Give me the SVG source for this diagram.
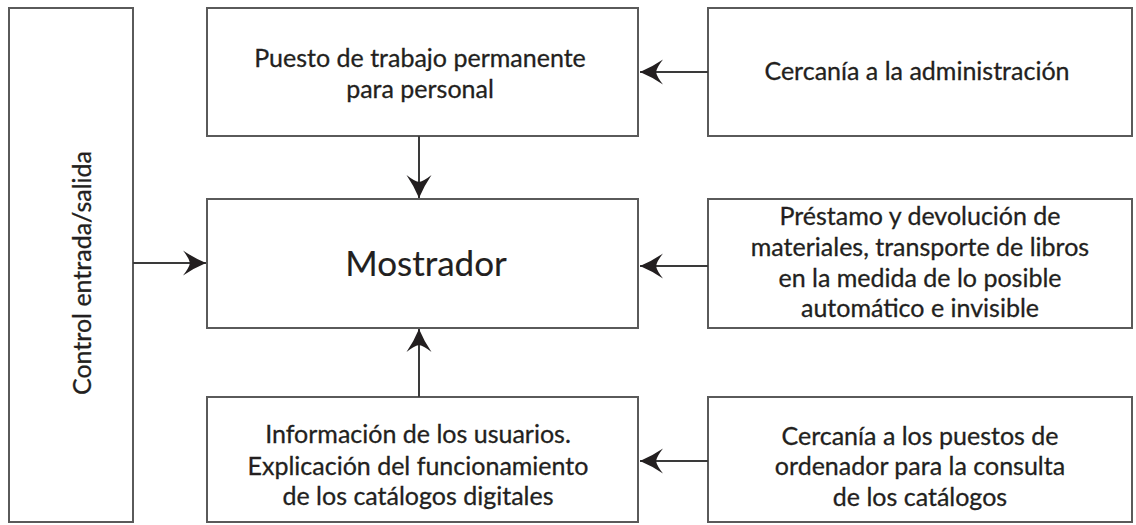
<svg xmlns="http://www.w3.org/2000/svg" width="1136" height="525" viewBox="0 0 1136 525">
<style>
.box{fill:#fff;stroke:#5a5a5a;stroke-width:2}
.t{font-family:Lato,"Open Sans","Liberation Sans",sans-serif;fill:#231f20;stroke:#231f20;stroke-width:0.3;text-anchor:middle;font-size:25px}
.big{font-size:35px;stroke-width:0.15}
.conn{stroke:#3a3a3a;stroke-width:2;fill:none}
</style>
<defs>
<marker id="ah" viewBox="-25 -14 26 28" markerWidth="26" markerHeight="28" refX="0" refY="0" orient="auto" markerUnits="userSpaceOnUse">
<path d="M0,0 Q-12,-5 -23,-12.5 Q-17,-5 -16,0 Q-17,5 -23,12.5 Q-12,5 0,0 Z" fill="#231f20"/>
</marker>
</defs>
<rect width="1136" height="525" fill="#fff"/>
<g id="control">
<rect class="box" x="9" y="8" width="124" height="514"/>
<text class="t" transform="translate(91,273) rotate(-90)">Control entrada/salida</text>
</g>
<g id="puesto">
<rect class="box" x="207" y="8" width="431" height="128"/>
<text class="t" x="420" y="67">Puesto de trabajo permanente</text>
<text class="t" x="420" y="98">para personal</text>
</g>
<g id="cercania-admin">
<rect class="box" x="708" y="8" width="424" height="128"/>
<text class="t" x="917" y="80">Cercanía a la administración</text>
</g>
<g id="mostrador">
<rect class="box" x="207" y="199" width="431" height="129"/>
<text class="t big" x="426" y="276">Mostrador</text>
</g>
<g id="prestamo">
<rect class="box" x="708" y="199" width="424" height="129"/>
<text class="t" x="920" y="225">Préstamo y devolución de</text>
<text class="t" x="920" y="256">materiales, transporte de libros</text>
<text class="t" x="920" y="287">en la medida de lo posible</text>
<text class="t" x="920" y="317">automático e invisible</text>
</g>
<g id="informacion">
<rect class="box" x="207" y="397" width="431" height="125"/>
<text class="t" x="418" y="443">Información de los usuarios.</text>
<text class="t" x="418" y="475">Explicación del funcionamiento</text>
<text class="t" x="418" y="505">de los catálogos digitales</text>
</g>
<g id="cercania-ordenador">
<rect class="box" x="708" y="397" width="424" height="125"/>
<text class="t" x="920" y="445">Cercanía a los puestos de</text>
<text class="t" x="920" y="475">ordenador para la consulta</text>
<text class="t" x="920" y="506">de los catálogos</text>
</g>
<g id="connectors">
<line class="conn" x1="708" y1="72" x2="640" y2="72" marker-end="url(#ah)"/>
<line class="conn" x1="419" y1="136" x2="419" y2="198" marker-end="url(#ah)"/>
<line class="conn" x1="133" y1="263" x2="206" y2="263" marker-end="url(#ah)"/>
<line class="conn" x1="708" y1="266" x2="640" y2="266" marker-end="url(#ah)"/>
<line class="conn" x1="419" y1="397" x2="419" y2="329" marker-end="url(#ah)"/>
<line class="conn" x1="708" y1="461" x2="640" y2="461" marker-end="url(#ah)"/>
</g>
</svg>
